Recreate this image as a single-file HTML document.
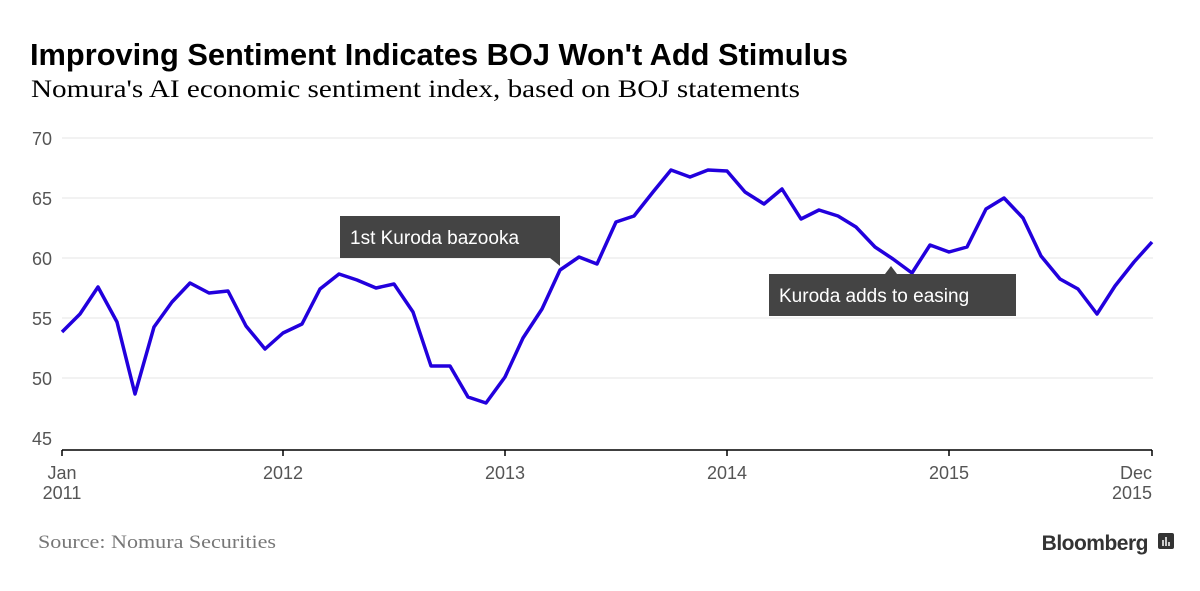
<!DOCTYPE html>
<html><head><style>
body{margin:0;width:1200px;height:586px;background:#fff;overflow:hidden;font-family:"Liberation Sans",sans-serif}
</style></head><body>
<svg width="1200" height="586" xmlns="http://www.w3.org/2000/svg">
<text x="30" y="65" font-family="Liberation Sans" font-weight="bold" font-size="31" textLength="818" lengthAdjust="spacingAndGlyphs" fill="#000">Improving Sentiment Indicates BOJ Won't Add Stimulus</text>
<text x="31" y="97" font-family="Liberation Serif" font-size="25" textLength="769" lengthAdjust="spacingAndGlyphs" fill="#000">Nomura's AI economic sentiment index, based on BOJ statements</text>
<g stroke="#e6e6e6" stroke-width="1">
<line x1="62" y1="138" x2="1153" y2="138"/><line x1="62" y1="198" x2="1153" y2="198"/><line x1="62" y1="258" x2="1153" y2="258"/><line x1="62" y1="318" x2="1153" y2="318"/><line x1="62" y1="378" x2="1153" y2="378"/>
</g>
<g font-family="Liberation Sans" font-size="18" fill="#555" text-anchor="end">
<text x="52" y="145">70</text><text x="52" y="205">65</text><text x="52" y="265">60</text><text x="52" y="325">55</text><text x="52" y="385">50</text><text x="52" y="445">45</text>
</g>
<path d="M62 450H1152M62 450v6M283 450v6M505 450v6M727 450v6M949 450v6M1152 450v6" stroke="#000" stroke-width="1.5" fill="none"/>
<g font-family="Liberation Sans" font-size="18" fill="#555" text-anchor="middle">
<text x="62" y="479">Jan</text><text x="62" y="499">2011</text>
<text x="283" y="479">2012</text><text x="505" y="479">2013</text><text x="727" y="479">2014</text><text x="949" y="479">2015</text>
<text x="1152" y="479" text-anchor="end">Dec</text><text x="1152" y="499" text-anchor="end">2015</text>
</g>
<polyline fill="none" stroke="#2200dd" stroke-width="3.5" stroke-linejoin="round" points="62,332 80,314 98,287 117,322 135,394 154,327 172,302 190,283 209,293 228,291 246,326 265,349 283,333 302,324 320,289 339,274 357,280 376,288 394,284 413,312 431,366 450,366 468,397 486,403 505,377 523,338 542,309 560,270 579,257 597,264 616,222 634,216 653,192 671,170 690,177 708,170 727,171 745,192 764,204 782,189 801,219 819,210 838,216 856,227 875,247 893,259 912,273 930,245 949,252 967,247 986,209 1004,198 1023,218 1041,256 1060,279 1078,289 1097,314 1115,286 1134,262 1152,242"/>
<rect x="340" y="216" width="220" height="42" fill="#444"/>
<path d="M550 258h10v8z" fill="#444"/>
<text x="350" y="244" font-family="Liberation Sans" font-size="19" fill="#fff">1st Kuroda bazooka</text>
<rect x="769" y="274" width="247" height="42" fill="#444"/>
<path d="M885 274l6-8 6 8z" fill="#444"/>
<text x="779" y="302" font-family="Liberation Sans" font-size="19" fill="#fff">Kuroda adds to easing</text>
<text x="38" y="548" font-family="Liberation Serif" font-size="19" textLength="238" lengthAdjust="spacingAndGlyphs" fill="#777">Source: Nomura Securities</text>
<text x="1148" y="550" font-family="Liberation Sans" font-weight="bold" font-size="21" fill="#333" text-anchor="end" letter-spacing="-0.5">Bloomberg</text>
<rect x="1158" y="533" width="16" height="16" rx="2" fill="#333"/>
<path d="M1163 546v-6M1166 546v-9M1169 546v-4" stroke="#fff" stroke-width="1.5"/>
</svg>
</body></html>
